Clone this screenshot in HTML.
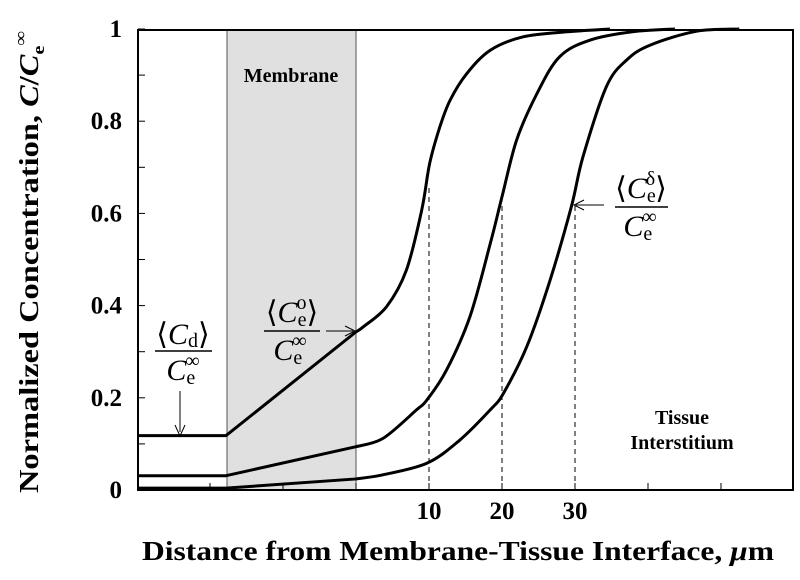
<!DOCTYPE html>
<html><head><meta charset="utf-8"><style>
html,body{margin:0;padding:0;background:#fff}
svg{display:block;font-family:"Liberation Serif",serif}
</style></head><body>
<svg id="chart" width="800" height="580" viewBox="0 0 800 580" xmlns="http://www.w3.org/2000/svg">
<rect x="227" y="30" width="129" height="460" fill="#e0e0e0" stroke="#555" stroke-width="1"/>
<g id="dashes"></g>
<g id="curves"></g>
<rect x="138" y="30" width="655" height="460" fill="none" stroke="#000" stroke-width="2"/>
<g id="ticks"></g>
<text x="291" y="82" font-size="20" font-weight="bold" text-anchor="middle">Membrane</text>
<text x="682" y="424" font-size="20" font-weight="bold" text-anchor="middle">Tissue</text>
<text x="682" y="449" font-size="20" font-weight="bold" text-anchor="middle">Interstitium</text>

<g font-size="30">
<text x="183" y="344" text-anchor="middle">⟨<tspan font-style="italic">C</tspan><tspan font-size="20" dy="3">d</tspan><tspan dy="-3">⟩</tspan></text>
<line x1="155" y1="351" x2="212" y2="351" stroke="#000" stroke-width="1.5"/>
<text x="183" y="380" text-anchor="middle"><tspan font-style="italic">C</tspan><tspan font-size="20" dy="4">e</tspan><tspan font-size="20" dx="-10" dy="-17">∞</tspan></text>
<line x1="180" y1="391" x2="180" y2="432" stroke="#000" stroke-width="1"/>
<path d="M175,425 L180,436 L185,425" fill="none" stroke="#000" stroke-width="1"/>
</g>
<g font-size="30">
<text x="292" y="322" text-anchor="middle">⟨<tspan font-style="italic">C</tspan><tspan font-size="20" dy="4">e</tspan><tspan font-size="20" dx="-10" dy="-17">o</tspan><tspan dy="13">⟩</tspan></text>
<line x1="264" y1="331" x2="320" y2="331" stroke="#000" stroke-width="1.5"/>
<text x="290" y="360" text-anchor="middle"><tspan font-style="italic">C</tspan><tspan font-size="20" dy="4">e</tspan><tspan font-size="20" dx="-10" dy="-17">∞</tspan></text>
<line x1="326" y1="331" x2="353" y2="331" stroke="#000" stroke-width="1"/>
<path d="M345,326 L355,331 L345,336" fill="none" stroke="#000" stroke-width="1"/>
</g>
<g font-size="30">
<text x="641" y="198" text-anchor="middle">⟨<tspan font-style="italic">C</tspan><tspan font-size="20" dy="4">e</tspan><tspan font-size="20" dx="-10" dy="-17">δ</tspan><tspan dy="13">⟩</tspan></text>
<line x1="615" y1="207" x2="668" y2="207" stroke="#000" stroke-width="1.5"/>
<text x="640" y="236" text-anchor="middle"><tspan font-style="italic">C</tspan><tspan font-size="20" dy="4">e</tspan><tspan font-size="20" dx="-10" dy="-17">∞</tspan></text>
<line x1="604" y1="205" x2="576" y2="205" stroke="#000" stroke-width="1"/>
<path d="M584,200 L574,205 L584,210" fill="none" stroke="#000" stroke-width="1"/>
</g>

<text transform="translate(38,262) rotate(-90)" font-size="27" font-weight="bold" text-anchor="middle" textLength="462" lengthAdjust="spacingAndGlyphs">Normalized Concentration, <tspan font-style="italic">C</tspan>/<tspan font-style="italic">C</tspan><tspan font-size="17" dy="6">e</tspan><tspan font-size="17" dy="-18">∞</tspan></text>
<text x="458" y="560" font-size="27" font-weight="bold" text-anchor="middle" textLength="632" lengthAdjust="spacingAndGlyphs">Distance from Membrane-Tissue Interface, <tspan font-style="italic">μ</tspan>m</text>
</svg>
<script>
const yTicks=[0,0.2,0.4,0.6,0.8,1];
const yTickLabels=["0","0.2","0.4","0.6","0.8","1"];
const xTickLabelsVals=[10,20,30];
const curve1X=[-30,-17.8,0,1.0,4.2,6.9,9.0,10.1,11.5,12.9,15.2,18.4,22.9,28.9,34.8];
const curve1Y=[0.118,0.118,0.343,0.354,0.398,0.477,0.607,0.709,0.788,0.846,0.904,0.954,0.983,0.994,1];
const curve2X=[-30,-17.8,0,3.7,8.3,9.7,12.4,15.6,18.4,20,22,24.8,27.9,32.1,37.9,43.7];
const curve2Y=[0.031,0.031,0.094,0.112,0.174,0.195,0.26,0.376,0.535,0.636,0.759,0.86,0.94,0.976,0.994,1];
const curve3X=[-30,-17.8,0,3.7,9.7,14.2,18.4,20.2,23.4,26.6,29.5,31.1,34.3,37.1,40.3,46.6,52.5];
const curve3Y=[0.004,0.004,0.024,0.033,0.058,0.108,0.174,0.21,0.311,0.456,0.615,0.723,0.875,0.933,0.965,0.995,1];
const dashX=[10,20,30];
const dashY=[0.66,0.64,0.62];
const NS="http://www.w3.org/2000/svg";
const X=u=>356+7.3*u;
const Y=v=>490-461*v;
function mk(tag,attrs,parent){const e=document.createElementNS(NS,tag);for(const k in attrs)e.setAttribute(k,attrs[k]);parent.appendChild(e);return e;}
function smoothPath(xs,ys){
  const P=xs.map((x,i)=>[X(x),Y(ys[i])]);
  let d='M'+P[0][0]+','+P[0][1]+' L'+P[1][0]+','+P[1][1]+' L'+P[2][0]+','+P[2][1];
  for(let i=2;i<P.length-1;i++){
    const p0=i>2?P[i-1]:P[i],p1=P[i],p2=P[i+1],p3=P[i+2]||P[i+1];
    const c1=[p1[0]+(p2[0]-p0[0])/6,p1[1]+(p2[1]-p0[1])/6];
    const c2=[p2[0]-(p3[0]-p1[0])/6,p2[1]-(p3[1]-p1[1])/6];
    d+=' C'+c1.map(v=>v.toFixed(1)).join(',')+' '+c2.map(v=>v.toFixed(1)).join(',')+' '+p2[0].toFixed(1)+','+p2[1].toFixed(1);
  }
  return d;
}
const cg=document.getElementById('curves');
[[curve1X,curve1Y],[curve2X,curve2Y],[curve3X,curve3Y]].forEach((c,i)=>{
  const p=mk('path',{d:smoothPath(c[0],c[1]),fill:'none',stroke:'#000','stroke-width':3,'stroke-linejoin':'round'},cg);
  
  
});
const dg=document.getElementById('dashes');
dashX.forEach((x,i)=>{
  const l=mk('line',{x1:X(x),x2:X(x),y1:Y(0),y2:Y(dashY[i]),stroke:'#000','stroke-width':1,'stroke-dasharray':'5,4'},dg);
  
  
});
const tg=document.getElementById('ticks');
for(let v=0.1;v<1;v+=0.1){mk('line',{x1:138,x2:145,y1:Y(v),y2:Y(v),stroke:'#000','stroke-width':1},tg);}
yTicks.forEach((v,i)=>{
  const t=mk('text',{x:122,y:Y(v)+8,'font-size':25,'font-weight':'bold','text-anchor':'end'},tg);
  t.textContent=yTickLabels[i];
  
  
});
for(let u=-20;u<=50;u+=10){mk('line',{x1:X(u),x2:X(u),y1:490,y2:483,stroke:'#000','stroke-width':1},tg);}
xTickLabelsVals.forEach(u=>{
  const t=mk('text',{x:X(u),y:519,'font-size':25,'font-weight':'bold','text-anchor':'middle'},tg);
  t.textContent=String(u);
  
  
});
</script>
</body></html>
